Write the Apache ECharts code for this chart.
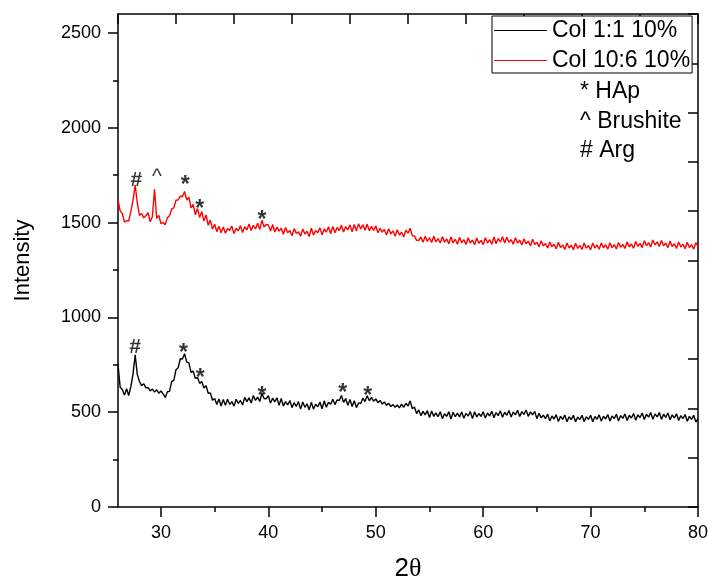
<!DOCTYPE html>
<html>
<head>
<meta charset="utf-8">
<script src="https://cdn.jsdelivr.net/npm/echarts@6/dist/echarts.min.js"></script>
<style>
  html, body { margin: 0; padding: 0; background: #fff; }
  #chart { width: 708px; height: 581px; }
</style>
</head>
<body>
<div id="chart"></div>
<script>
// XRD scans, 2θ from 26° to 80° in 0.2° steps
const START_ANGLE = 26;
const STEP = 0.2;

// Col 10:6 10% (red trace)
const col106 = [
  1620,1562,1548,1502,1510,1508,1560,1618,1698,1602,
  1538,1548,1525,1536,1552,1504,1531,1676,1522,1538,
  1495,1500,1488,1526,1536,1572,1578,1618,1620,1640,
  1636,1664,1618,1634,1578,1596,1541,1574,1527,1558,
  1508,1540,1486,1513,1466,1491,1452,1481,1446,1477,
  1444,1468,1458,1481,1442,1470,1456,1484,1447,1478,
  1461,1492,1458,1486,1466,1496,1464,1512,1476,1490,
  1488,1455,1490,1450,1476,1455,1470,1438,1474,1446,
  1458,1430,1468,1442,1452,1428,1466,1440,1454,1426,
  1470,1434,1458,1446,1472,1436,1466,1450,1478,1441,
  1480,1446,1474,1458,1486,1450,1479,1461,1488,1452,
  1490,1456,1494,1466,1488,1460,1492,1457,1480,1458,
  1482,1446,1470,1450,1464,1434,1468,1440,1456,1428,
  1462,1434,1450,1424,1460,1444,1470,1430,1430,1406,
  1406,1424,1396,1428,1401,1420,1395,1428,1398,1416,
  1392,1426,1396,1414,1388,1424,1394,1412,1386,1422,
  1394,1410,1384,1420,1392,1408,1383,1418,1390,1406,
  1384,1420,1392,1410,1386,1424,1388,1416,1398,1426,
  1392,1422,1396,1410,1386,1420,1392,1408,1382,1414,
  1388,1402,1378,1412,1384,1396,1372,1404,1376,1390,
  1366,1398,1372,1386,1362,1396,1368,1382,1358,1392,
  1366,1381,1357,1391,1364,1380,1358,1392,1365,1379,
  1356,1392,1366,1382,1359,1393,1366,1383,1360,1394,
  1368,1384,1361,1395,1370,1385,1363,1398,1372,1387,
  1365,1400,1374,1390,1368,1404,1378,1394,1372,1408,
  1382,1398,1374,1406,1378,1392,1368,1402,1374,1388,
  1364,1398,1371,1386,1362,1396,1368,1384,1360,1394,
  1374
];

// Col 1:1 10% (black trace)
const col11 = [
  752,632,620,590,624,588,636,702,802,698,
  662,640,650,628,630,612,622,606,618,600,
  612,596,578,608,610,662,668,724,734,782,
  780,808,764,760,710,717,678,684,652,662,
  628,640,600,602,563,572,540,570,533,567,
  536,568,540,556,532,568,546,562,538,578,
  556,576,548,588,562,580,556,600,572,570,
  588,548,574,554,576,536,572,532,556,538,
  562,524,550,530,556,516,554,526,544,512,
  552,516,542,528,554,518,560,526,552,542,
  568,540,564,562,588,552,572,536,567,530,
  560,524,549,546,574,556,587,560,578,558,
  570,550,562,543,554,536,547,530,540,526,
  538,523,542,526,547,533,560,518,527,493,
  512,482,504,486,508,472,506,478,496,476,
  502,466,492,478,502,464,500,476,495,475,
  501,468,494,479,503,466,502,475,493,478,
  502,469,496,480,505,471,498,482,507,473,
  500,484,509,475,501,486,510,477,503,488,
  511,478,502,486,504,466,494,470,484,466,
  490,454,480,464,487,451,478,462,485,450,
  476,461,484,449,475,461,484,451,476,462,
  484,450,477,463,486,452,479,464,488,453,
  480,466,489,454,482,467,491,456,484,469,
  493,458,486,472,496,461,489,474,498,463,
  491,475,498,462,489,473,496,460,486,470,
  492,456,482,466,488,452,478,462,484,448,
  466
];

// Phase markers placed above peaks: [2θ, intensity, symbol]
const redPeakMarks = [
  [27.7, 1725, '#'], [29.63, 1760, '^'], [32.26, 1725, '*'],
  [33.6, 1598, '*'], [39.41, 1544, '*']
];
const blackPeakMarks = [
  [27.6, 845, '#'], [32.1, 842, '*'], [33.66, 708, '*'],
  [39.41, 616, '*'], [46.92, 628, '*'], [49.25, 612, '*']
];

// Axis ticks
const xMajorTicks = [30, 40, 50, 60, 70, 80];
const xMinorTicks = [35, 45, 55, 65, 75];
const yMajorTicks = [0, 500, 1000, 1500, 2000, 2500];
const yMinorTicks = [250, 750, 1250, 1750, 2250];

const seriesNames = ['Col 1:1 10%', 'Col 10:6 10%'];
const seriesColors = ['#000000', '#ff0000'];
const phaseKey = ['* HAp', '^ Brushite', '# Arg'];

const FONT = '"Liberation Sans", Arial, Helvetica, sans-serif';

function toPairs(values) {
  return values.map((v, i) => [+(START_ANGLE + i * STEP).toFixed(1), v]);
}

const axisLineStyle = { color: '#000', width: 1.5 };

const gridRect = { left: 118, right: 10, top: 14, bottom: 74, outerBoundsMode: 'none', containLabel: false };

function markSeries(marks) {
  return {
    type: 'scatter',
    xAxisIndex: 0,
    yAxisIndex: 0,
    symbolSize: 0,
    silent: true,
    z: 5,
    data: marks.map(m => {
      const isStar = m[2] === '*';
      const isCaret = m[2] === '^';
      return {
        value: m,
        label: {
          fontSize: isStar ? 23 : 21,
          fontWeight: isCaret ? 'normal' : 'bold',
          offset: [0, isStar ? 6 : (isCaret ? 4 : 0)]
        }
      };
    }),
    label: {
      show: true,
      position: 'inside',
      color: '#000',
      fontFamily: FONT,
      formatter: p => p.value[2]
    }
  };
}

function frameAxis(gridIndex, position) {
  return {
    type: 'value', gridIndex: gridIndex, min: 0, max: 10, interval: 1, position: position,
    axisLine: { show: true, onZero: false, lineStyle: axisLineStyle },
    axisTick: { show: true, inside: true, length: 10, lineStyle: axisLineStyle },
    axisLabel: { show: false },
    splitLine: { show: false }
  };
}

const chart = echarts.init(document.getElementById('chart'), null, { renderer: 'canvas' });

chart.setOption({
  animation: false,
  backgroundColor: '#fff',
  grid: [
    Object.assign({}, gridRect),
    Object.assign({}, gridRect)
  ],
  xAxis: [
    {
      type: 'value', gridIndex: 0, min: 26, max: 80, position: 'bottom',
      name: '{a|2}{b|θ}', nameLocation: 'middle', nameGap: 49,
      nameTextStyle: {
        rich: {
          a: { fontSize: 26, fontFamily: FONT, color: '#000' },
          b: { fontSize: 26, fontFamily: '"Liberation Serif", "DejaVu Serif", serif', color: '#000' }
        }
      },
      axisLine: { show: true, onZero: false, lineStyle: axisLineStyle },
      axisTick: { show: true, inside: false, length: 10, customValues: xMajorTicks, lineStyle: axisLineStyle },
      axisLabel: { customValues: xMajorTicks, margin: 17, fontSize: 18, color: '#000', fontFamily: FONT,
                   formatter: v => String(v) },
      splitLine: { show: false }
    },
    frameAxis(0, 'top'),
    {
      type: 'value', gridIndex: 1, min: 26, max: 80, position: 'bottom',
      axisLine: { show: false, onZero: false },
      axisTick: { show: true, inside: false, length: 5, customValues: xMinorTicks, lineStyle: axisLineStyle },
      axisLabel: { show: false },
      splitLine: { show: false }
    }
  ],
  yAxis: [
    {
      type: 'value', gridIndex: 0, min: 0, max: 2600, position: 'left',
      name: 'Intensity', nameLocation: 'middle', nameGap: 84,
      nameTextStyle: { fontSize: 22, fontFamily: FONT, color: '#000' },
      axisLine: { show: true, onZero: false, lineStyle: axisLineStyle },
      axisTick: { show: true, inside: false, length: 10, customValues: yMajorTicks, lineStyle: axisLineStyle },
      axisLabel: { customValues: yMajorTicks, margin: 17, fontSize: 18, color: '#000', fontFamily: FONT,
                   formatter: v => String(v) },
      splitLine: { show: false }
    },
    frameAxis(0, 'right'),
    {
      type: 'value', gridIndex: 1, min: 0, max: 2600, position: 'left',
      axisLine: { show: false, onZero: false },
      axisTick: { show: true, inside: false, length: 5, customValues: yMinorTicks, lineStyle: axisLineStyle },
      axisLabel: { show: false },
      splitLine: { show: false }
    }
  ],
  legend: {
    data: seriesNames.map((n, i) => ({ name: n, icon: 'rect', itemStyle: { color: seriesColors[i] } })),
    orient: 'vertical',
    left: 492,
    top: 16,
    padding: [3, 2, 1, 2],
    itemGap: 7,
    itemWidth: 53,
    itemHeight: 1,
    borderColor: '#000',
    borderWidth: 1,
    borderRadius: 0,
    backgroundColor: '#fff',
    textStyle: { fontSize: 23, color: '#000', fontFamily: FONT }
  },
  graphic: phaseKey.map((t, i) => ({
    type: 'text',
    x: 580,
    y: 92 + i * 29.5,
    style: {
      text: t,
      font: '23px ' + FONT,
      fill: '#000',
      textVerticalAlign: 'middle'
    }
  })),
  series: [
    {
      name: seriesNames[0],
      type: 'line',
      xAxisIndex: 0, yAxisIndex: 0,
      data: toPairs(col11),
      showSymbol: false, symbol: 'none',
      lineStyle: { color: seriesColors[0], width: 1.4 },
      itemStyle: { color: seriesColors[0] },
      z: 3
    },
    {
      name: seriesNames[1],
      type: 'line',
      xAxisIndex: 0, yAxisIndex: 0,
      data: toPairs(col106),
      showSymbol: false, symbol: 'none',
      lineStyle: { color: seriesColors[1], width: 1.4 },
      itemStyle: { color: seriesColors[1] },
      z: 3
    },
    markSeries(redPeakMarks),
    markSeries(blackPeakMarks)
  ]
});
</script>
</body>
</html>
